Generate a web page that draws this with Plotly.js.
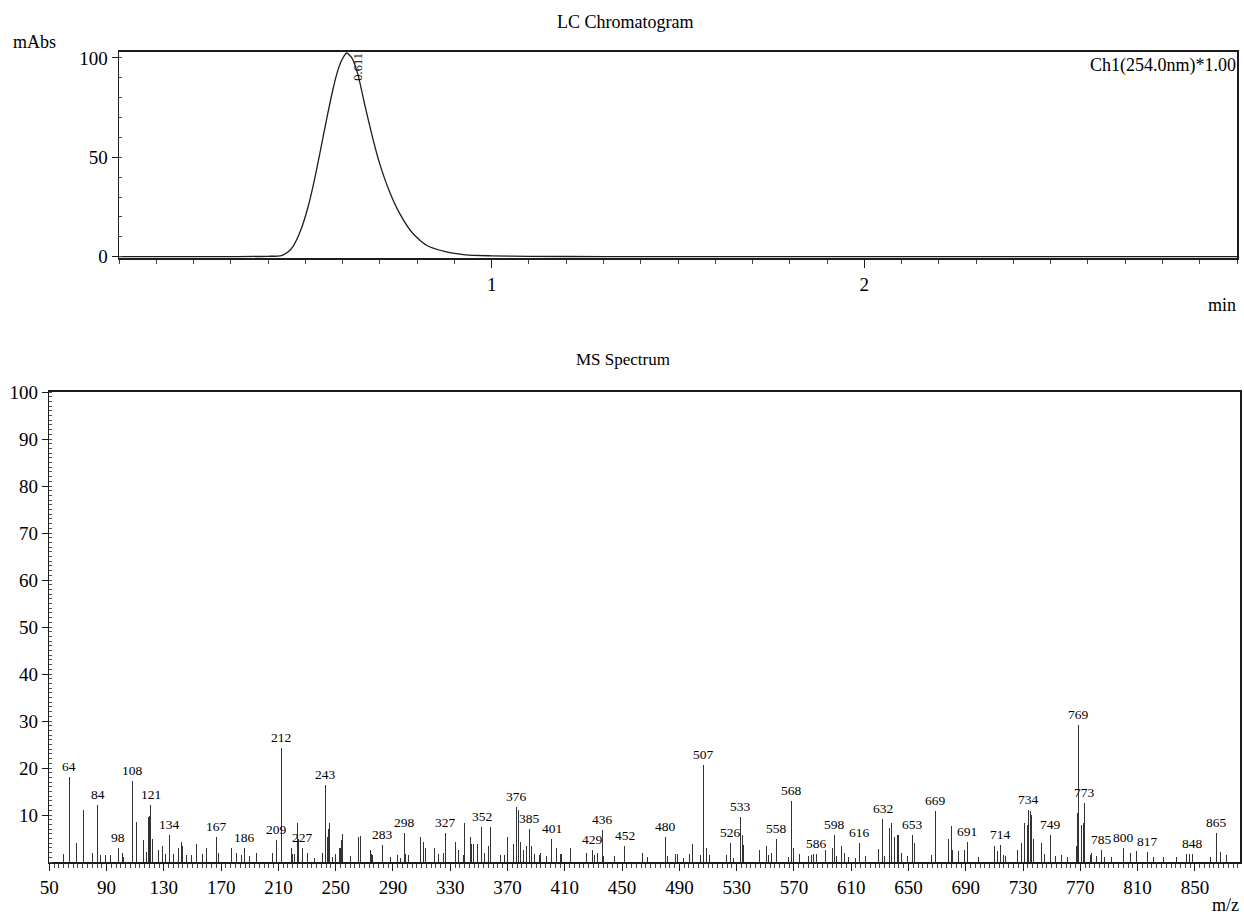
<!DOCTYPE html>
<html>
<head>
<meta charset="utf-8">
<script src="https://cdn.plot.ly/plotly-3.0.1.min.js"></script>
<style>
html,body{margin:0;padding:0;background:#fff;}
#chart{width:1244px;height:915px;}
</style>
</head>
<body>
<div id="chart"></div>
<script>
// ---------- LC chromatogram (Ch1 254.0 nm) ----------
const lcTime = [0, 0.1, 0.2, 0.3, 0.4, 0.436, 0.455, 0.468, 0.486, 0.508, 0.526, 0.540, 0.558, 0.572, 0.586, 0.598, 0.611, 0.624, 0.640, 0.660, 0.679, 0.698, 0.726, 0.753, 0.788, 0.824, 0.876, 0.930, 1.0, 1.1, 1.3, 1.6, 2.0, 2.5, 3.0];
const lcAbs  = [0, 0, 0, 0.05, 0.2, 0.6, 2.6, 5.5, 12.5, 25.5, 40, 53, 70, 82.5, 93, 99, 102.5, 100.3, 92.5, 76, 61, 47.7, 32.7, 21.8, 11.8, 5.9, 2.5, 0.9, 0.45, 0.18, 0.06, 0, 0, 0, 0];
const lcPeakTime = 0.611;
const lcPeakLabel = "0.611";
const lcYTicks = [0, 50, 100];
const lcXTicks = [1, 2];

// ---------- MS spectrum ----------
const msMz = [60,64,69,74,80,84,86,89,93,98,101,102,108,111,116,118,119,120,121,122,126,129,131,134,137,140,142,143,146,149,153,157,160,167,168,177,181,184,186,190,195,206,209,212,219,220,221,223,224,227,230,235,241,243,244,245,246,248,250,253,254,255,260,266,267,274,275,276,283,288,293,295,298,299,301,309,311,313,319,322,325,327,334,336,339,340,344,345,346,349,352,354,357,358,365,368,370,374,376,378,379,381,383,385,387,389,392,393,397,401,404,407,408,414,425,429,431,433,436,437,445,452,464,468,480,482,487,489,493,497,499,505,507,509,511,523,526,528,533,534,535,546,551,552,554,558,566,568,570,574,580,582,584,586,592,597,598,600,603,605,608,613,616,620,629,632,633,637,638,640,642,643,645,649,653,654,666,669,678,680,681,685,689,691,699,710,712,714,716,718,726,729,731,733,734,735,736,737,743,745,749,753,757,761,767,768,769,771,772,773,777,778,781,785,787,792,800,805,809,817,821,828,837,844,846,848,861,865,868,872];
const msInt = [1.8,18.1,4.1,11.0,2.0,12.1,1.5,1.5,1.5,3.0,2.0,1.0,17.2,8.6,4.7,2.2,9.6,9.8,12.1,5.0,2.5,3.5,1.8,5.7,1.8,3.0,4.3,3.5,1.5,1.5,3.9,1.8,3.0,5.4,2.0,3.0,2.0,1.5,3.0,1.2,2.0,2.0,4.7,24.2,3.0,1.8,1.8,8.2,5.0,3.0,2.0,0.8,2.0,16.4,5.4,7.0,8.3,1.0,1.8,3.0,4.6,5.9,1.2,5.4,5.5,2.5,1.8,1.5,3.6,1.0,1.5,0.8,6.2,1.8,1.5,5.4,4.3,3.0,3.0,1.8,2.0,6.2,4.3,2.6,1.5,8.4,5.3,3.9,3.9,3.9,7.5,2.0,3.3,7.5,1.5,1.5,5.4,3.9,11.6,11.0,4.3,2.5,3.3,7.0,3.3,1.8,1.5,2.0,1.2,5.0,3.0,1.8,1.8,3.0,2.0,2.5,1.5,2.0,6.8,1.2,1.2,3.3,2.0,1.0,5.4,1.2,1.8,1.8,0.8,1.8,3.9,1.5,20.6,3.0,1.5,1.5,4.1,0.8,9.6,5.7,3.6,2.6,3.5,1.5,2.0,4.8,1.0,13.0,3.0,1.8,1.2,1.5,1.8,1.8,2.6,3.0,5.7,1.2,3.3,2.0,1.0,0.8,4.1,1.2,2.8,9.1,1.2,7.2,8.2,5.4,5.7,5.7,2.0,1.2,5.7,4.0,1.5,10.9,5.0,7.7,2.6,2.3,2.6,4.3,1.0,3.4,2.3,3.6,1.5,1.2,2.6,4.0,8.2,7.9,11.1,10.8,10.1,5.0,4.0,1.8,5.7,1.3,1.5,1.0,3.3,10.4,29.1,7.9,8.2,12.5,1.5,2.0,1.3,2.6,1.0,1.0,2.9,2.0,2.3,2.2,1.0,1.0,1.0,1.7,1.7,1.7,1.0,6.1,2.2,1.5];
const msLabeled = [64,84,98,108,121,134,167,186,209,212,227,243,283,298,327,352,376,385,401,429,436,452,480,507,526,533,558,568,586,598,616,632,653,669,691,714,734,749,769,773,785,800,817,848,865];
const msYTicks = [10,20,30,40,50,60,70,80,90,100];

// ---------- geometry (pixels of the 1244x915 page) ----------
const W = 1244, H = 915;
const px = v => v / W, py = v => 1 - v / H;
const FONT = "Liberation Serif, Times New Roman, serif";
const INK = "#1c1c1c";

const traces = [
  {
    type: "scatter", mode: "lines", x: lcTime, y: lcAbs,
    xaxis: "x", yaxis: "y",
    line: {color: INK, width: 1.3, shape: "spline", smoothing: 0.6},
    hoverinfo: "skip"
  },
  {
    type: "bar", x: msMz, y: msInt, xaxis: "x2", yaxis: "y2",
    width: 0.7,
    marker: {color: "#333", line: {width: 0}},
    hoverinfo: "skip"
  }
];

const annotations = [];
function txt(text, x, y, size, xa, ya, extra) {
  annotations.push(Object.assign({
    text: text, x: x, y: y, xref: "paper", yref: "paper",
    xanchor: xa, yanchor: ya, showarrow: false,
    font: {family: FONT, size: size, color: "#000"}
  }, extra || {}));
}
txt("LC Chromatogram", px(625), py(22), 18, "center", "middle");
txt("mAbs", px(11), py(42), 18, "left", "middle");
txt("Ch1(254.0nm)*1.00", px(1238), py(66), 18, "right", "middle");
txt("min", px(1238), py(305), 18, "right", "middle");
txt("MS Spectrum", px(623), py(359), 17, "center", "middle");
txt("m/z", px(1241), py(905), 18, "right", "middle");

// retention-time label of the LC peak
const peakIdx = lcTime.indexOf(lcPeakTime);
annotations.push({
  text: lcPeakLabel, x: lcPeakTime, y: lcAbs[peakIdx], xref: "x", yref: "y",
  xanchor: "left", yanchor: "top", textangle: -90, showarrow: false,
  xshift: 2, yshift: 2, font: {family: FONT, size: 12.5, color: "#000"}
});

// m/z labels above the labelled peaks
msLabeled.forEach(m => {
  const i = msMz.indexOf(m);
  annotations.push({
    text: String(m), x: m, y: msInt[i], xref: "x2", yref: "y2",
    xanchor: "center", yanchor: "bottom", showarrow: false, yshift: 1,
    font: {family: FONT, size: 13.5, color: "#000"}
  });
});

const axFont = {family: FONT, size: 19, color: "#000"};

const layout = {
  width: W, height: H,
  margin: {l: 0, r: 0, t: 0, b: 0},
  paper_bgcolor: "#fff", plot_bgcolor: "#fff",
  showlegend: false,
  bargap: 0,
  font: {family: FONT, color: "#000"},
  xaxis: {
    domain: [px(119), px(1237)], range: [0, 3], anchor: "y",
    tickmode: "array", tickvals: lcXTicks, ticktext: lcXTicks.map(String),
    ticks: "outside", ticklen: 8, tickwidth: 1, tickcolor: INK,
    minor: {dtick: 0.1, tick0: 0, ticks: "outside", ticklen: 4, tickwidth: 1, tickcolor: "#444"},
    showline: true, linewidth: 2, linecolor: INK, mirror: true,
    showgrid: false, zeroline: false, tickfont: axFont, fixedrange: true
  },
  yaxis: {
    domain: [py(258), py(52)], range: [-0.65, 103], anchor: "x",
    tickmode: "array", tickvals: lcYTicks, ticktext: lcYTicks.map(String),
    ticks: "outside", ticklen: 6, tickwidth: 1, tickcolor: INK,
    minor: {dtick: 10, tick0: 0, ticks: "inside", ticklen: 3, tickwidth: 1, tickcolor: "#444"},
    showline: true, linewidth: 1.5, linecolor: INK, mirror: true,
    showgrid: false, zeroline: false, tickfont: axFont, fixedrange: true
  },
  xaxis2: {
    domain: [px(49.3), px(1240)], range: [50, 881.5], anchor: "y2",
    tickmode: "linear", tick0: 50, dtick: 40,
    ticks: "outside", ticklen: 7, tickwidth: 1, tickcolor: INK,
    minor: {dtick: 40 / 12, tick0: 50, ticks: "outside", ticklen: 4, tickwidth: 1, tickcolor: "#444"},
    showline: true, linewidth: 2, linecolor: INK, mirror: true,
    showgrid: false, zeroline: false, tickfont: axFont, fixedrange: true
  },
  yaxis2: {
    domain: [py(862), py(392)], range: [0, 100], anchor: "x2",
    tickmode: "array", tickvals: msYTicks, ticktext: msYTicks.map(String),
    ticks: "outside", ticklen: 6, tickwidth: 1, tickcolor: INK,
    minor: {dtick: 1, tick0: 0, ticks: "inside", ticklen: 3, tickwidth: 1, tickcolor: "#555"},
    showline: true, linewidth: 1.5, linecolor: INK, mirror: true,
    showgrid: false, zeroline: false, tickfont: axFont, fixedrange: true
  },
  annotations: annotations
};

Plotly.newPlot("chart", traces, layout, {staticPlot: true, displayModeBar: false});
</script>
</body>
</html>
